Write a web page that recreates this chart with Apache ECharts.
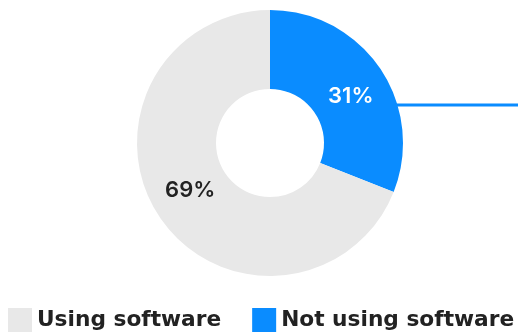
<!DOCTYPE html>
<html>
<head>
<meta charset="utf-8">
<script src="https://cdn.jsdelivr.net/npm/echarts@6/dist/echarts.min.js"></script>
<style>
html,body{margin:0;padding:0;background:#fff;}
#c{width:518px;height:335px;}
</style>
</head>
<body>
<div id="c"></div>
<script>
const categories = ["Using software", "Not using software"];
const values = [69, 31];
const colors = ["#e8e8e8", "#0a8cff"];
const labelColors = ["#222222", "#ffffff"];

const chart = echarts.init(document.getElementById('c'), null, {renderer: 'canvas'});
const cx = 270, cy = 143, R = 133, r0 = 54;
const lineY = 105;
const lineX0 = cx + Math.sqrt(R * R - (cy - lineY) * (cy - lineY)) - 1;
const labelOffsets = [[0, -7], [1, 8]];

const data = categories.map((n, i) => ({
  name: n,
  value: values[i],
  itemStyle: {color: colors[i]},
  label: {color: labelColors[i], offset: labelOffsets[i]}
}));
// blue slice starts at 12 o'clock, clockwise
const ordered = [data[1], data[0]];

chart.setOption({
  animation: false,
  legend: {
    data: categories,
    left: 8,
    top: 308,
    width: 600,
    padding: 0,
    itemWidth: 24,
    itemHeight: 24,
    itemGap: 31,
    icon: 'rect',
    textStyle: {fontFamily: 'DejaVu Sans', fontWeight: 'bold', fontSize: 21.7, color: '#222222'},
    selectedMode: false
  },
  graphic: [{
    type: 'line',
    shape: {x1: lineX0, y1: lineY, x2: 518, y2: lineY},
    style: {stroke: colors[1], lineWidth: 3},
    z: 1
  }],
  series: [{
    type: 'pie',
    center: [cx, cy],
    radius: [r0, R],
    startAngle: 90,
    clockwise: true,
    avoidLabelOverlap: false,
    silent: true,
    z: 2,
    label: {
      show: true,
      position: 'inside',
      formatter: '{c}%',
      fontFamily: 'Inter',
      fontWeight: 600,
      fontSize: 22
    },
    labelLine: {show: false},
    data: ordered
  }]
});
</script>
</body>
</html>
